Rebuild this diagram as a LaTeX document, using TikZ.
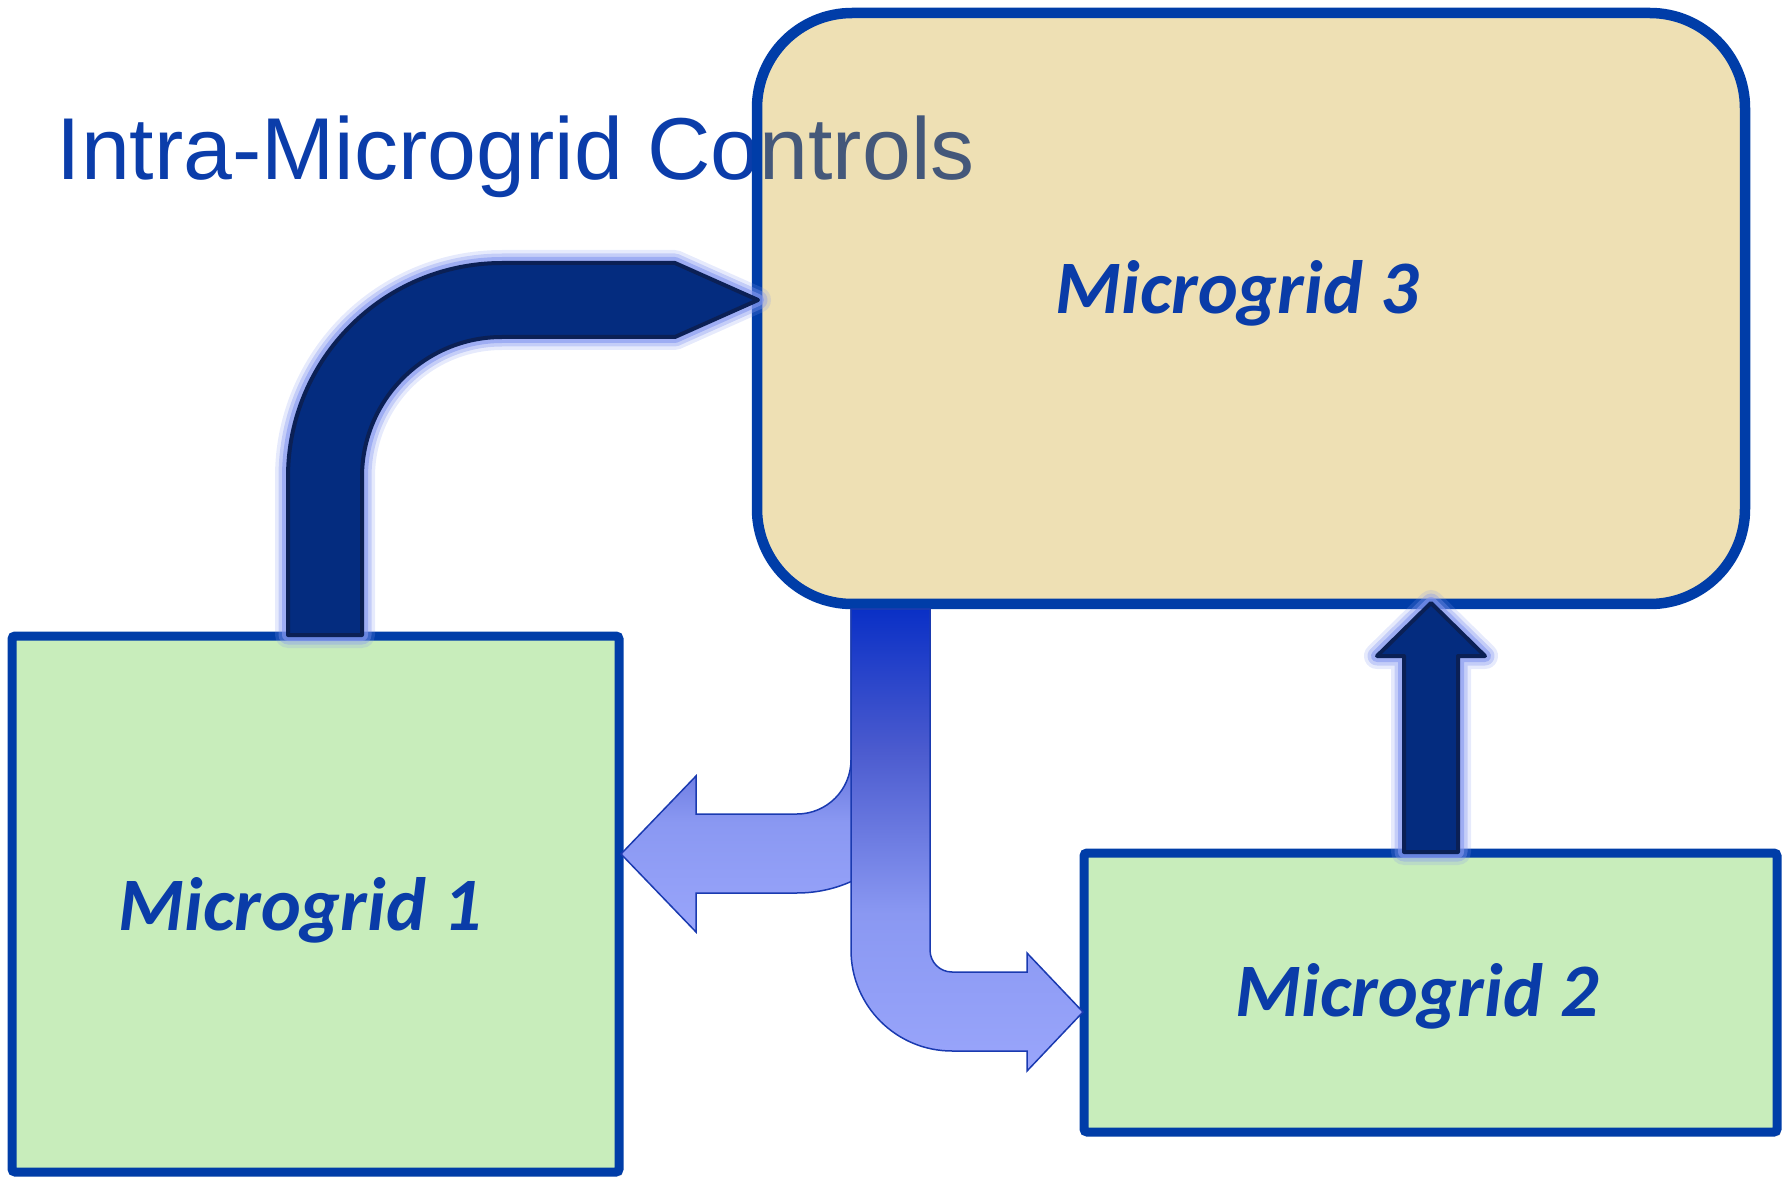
\documentclass[tikz,border=0pt]{standalone}
\usepackage{fontspec}
\usetikzlibrary{shadows}
\newfontfamily\titlefont{Liberation Sans}
\newfontfamily\labelfont{Carlito}
\definecolor{boxblue}{HTML}{003DA8}
\definecolor{tanfill}{HTML}{EEE0B4}
\definecolor{greenfill}{HTML}{C8EDBB}
\definecolor{titleblue}{HTML}{0B3DAA}
\definecolor{titlegrey}{HTML}{44587A}
\definecolor{labelblue}{HTML}{0A3CA8}
\definecolor{darkfill}{HTML}{042C7F}
\definecolor{darkedge}{HTML}{0B2055}
\definecolor{glowblue}{HTML}{8497F0}
\definecolor{gDark}{HTML}{0A30C6}
\definecolor{gMid}{HTML}{4A5ACE}
\definecolor{gLightA}{HTML}{8A98F2}
\definecolor{gLightB}{HTML}{99A5FB}
\definecolor{gEdge}{HTML}{1A3AB0}
\pgfdeclareverticalshading{splitgrad}{100bp}{color(0bp)=(gLightB); color(25bp)=(gLightB); color(42bp)=(gLightA); color(60bp)=(gMid); color(75bp)=(gDark); color(100bp)=(gDark)}
\tikzset{
  gridbox/.style={draw=boxblue, line width=0.9mm, fill=greenfill, inner sep=0pt, rounded corners=0.3mm,
    drop shadow={shadow xshift=0.35mm, shadow yshift=-0.4mm, opacity=0.18, fill=black}},
  topbox/.style={draw=boxblue, line width=1.05mm, fill=tanfill, inner sep=0pt, rounded corners=9.5mm,
    drop shadow={shadow xshift=0.35mm, shadow yshift=-0.4mm, opacity=0.18, fill=black}},
  gridlabel/.style={anchor=base, inner sep=0pt, text=labelblue, font=\labelfont\bfseries\itshape\fontsize{21.5}{26}\selectfont},
  titletext/.style={anchor=base west, inner sep=0pt, font=\titlefont\fontsize{25}{30}\selectfont},
  glowarrow/.style={line join=round, fill=darkfill, draw=darkedge, line width=0.4mm,
    preaction={draw=glowblue, line width=2.6mm, opacity=0.2, line join=round},
    preaction={draw=glowblue, line width=1.9mm, opacity=0.35, line join=round},
    preaction={draw=glowblue, line width=1.2mm, opacity=0.6, line join=round}},
  splitarrow/.style={shading=splitgrad, draw=gEdge, line width=0.15mm, line join=miter}
}
\begin{document}
\begin{tikzpicture}[x=0.1mm, y=-0.1mm]
\useasboundingbox (0,0) rectangle (1790,1177);
% title (behind box 3)
\node[titletext, text=titleblue] (title) at (56,180) {Intra-Microgrid Controls};
% boxes
\node[gridbox, minimum width=60.7mm, minimum height=53.6mm] (mg1) at (315.5,904) {};
\node[gridbox, minimum width=69.3mm, minimum height=27.9mm] (mg2) at (1430.5,992.5) {};
\node[topbox, minimum width=98.8mm, minimum height=59.1mm] (mg3) at (1251,308.5) {};
% title part seen through box 3
\begin{scope}
  \clip[rounded corners=9mm] (762,18) rectangle (1740,599);
  \node[titletext, text=titlegrey] (titleover) at (56,180) {Intra-Microgrid Controls};
\end{scope}
% labels
\node[gridlabel] (lab3) at (1237,313) {Microgrid 3};
\node[gridlabel] (lab1) at (300,930) {Microgrid 1};
\node[gridlabel] (lab2) at (1417,1016) {Microgrid 2};
% split arrow from Microgrid 3: left branch
\shadedraw[splitarrow] (851,609) -- (851,760)
  .. controls (851,789.8) and (826.8,814) .. (797,814)
  -- (696,814) -- (696,776) -- (621,854) -- (696,932) -- (696,893) -- (797,893)
  .. controls (870.5,893) and (930,833.5) .. (930,760)
  -- (930,609) -- cycle;
% split arrow: right branch
\shadedraw[splitarrow] (851,609) -- (851,950)
  .. controls (851,1005.8) and (896.2,1051) .. (952,1051)
  -- (1027,1051) -- (1027,1071) -- (1083,1012) -- (1027,953) -- (1027,972) -- (952,972)
  .. controls (939.8,972) and (930,962.2) .. (930,950)
  -- (930,609) -- cycle;
% bent arrow Microgrid 1 -> Microgrid 3
\draw[glowarrow] (288,635) -- (288,477)
  .. controls (288,358.8) and (383.8,263) .. (502,263)
  -- (675,263) -- (758,300) -- (675,337) -- (502,337)
  .. controls (424.7,337) and (362,399.7) .. (362,477)
  -- (362,635) -- cycle;
% up arrow Microgrid 2 -> Microgrid 3
\draw[glowarrow] (1404,852) -- (1404,656) -- (1377,656) -- (1431,603) -- (1485,656) -- (1458,656) -- (1458,852) -- cycle;
\end{tikzpicture}
\end{document}
